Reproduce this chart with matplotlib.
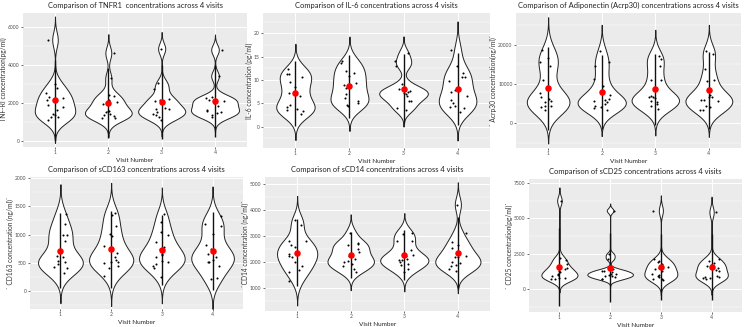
import numpy as np
import matplotlib
matplotlib.use("Agg")
import matplotlib.pyplot as plt
from matplotlib.ticker import MultipleLocator

plt.rcParams['font.family'] = ['Lato', 'DejaVu Sans']

visits = ['1', '2', '3', '4']

# concentrations per visit
tnfr1 = [
    [5330, 3020, 2800, 2520, 2320, 2250, 2150, 1910, 1790, 1610, 1400, 1350, 1280, 1250, 1120],
    [4630, 3300, 2420, 2350, 2140, 2050, 1950, 1600, 1560, 1500, 1440, 1350, 1300, 1230, 1200],
    [4860, 3050, 2750, 2210, 2180, 2100, 1740, 1700, 1660, 1530, 1440, 1350, 1250, 1120],
    [4800, 3420, 2300, 2250, 2150, 2100, 2020, 1820, 1650, 1600, 1530, 1450, 1350, 1260],
]
il6 = [
    [12.3, 11.4, 11.3, 10.6, 8.5, 7.2, 6.5, 4.7, 4.2, 3.8, 3.4, 3.6, 2.6, 9.5],
    [14.0, 13.6, 12.0, 11.6, 10.8, 9.4, 9.0, 7.0, 6.1, 5.4, 5.0, 4.6, 4.4, 8.2],
    [15.8, 14.0, 13.1, 9.1, 8.1, 7.6, 7.4, 7.2, 7.0, 6.5, 5.6, 5.4, 4.0, 3.6],
    [16.5, 13.1, 11.6, 10.6, 10.6, 9.7, 7.9, 7.4, 6.5, 5.8, 5.1, 4.5, 4.2, 3.9, 3.1],
]
acrp30 = [
    [18560, 16600, 15500, 14500, 11100, 7700, 6600, 6270, 5600, 5340, 4500, 4320, 4150, 3300],
    [18300, 15500, 14500, 11300, 9600, 7300, 6200, 6000, 5800, 5300, 4900, 4500, 4150, 3800, 3500],
    [17100, 16300, 14500, 11100, 11000, 7000, 6800, 6700, 6400, 5600, 5400, 4900, 4300, 3600],
    [18300, 17500, 13900, 11000, 10800, 7300, 6800, 6700, 6000, 5800, 5900, 4500, 4100, 3500, 3300],
]
scd163 = [
    [1360, 1180, 1000, 990, 890, 620, 600, 530, 520, 490, 430, 410, 320],
    [1390, 1340, 1150, 1010, 980, 800, 740, 680, 600, 550, 520, 510, 500, 450, 410, 265],
    [1370, 1220, 1050, 1000, 870, 780, 740, 660, 640, 610, 530, 510, 480, 440, 410, 250],
    [1330, 1180, 1160, 1010, 810, 740, 660, 600, 560, 525, 520, 440, 230, 210],
]
scd14 = [
    [3610, 3420, 2830, 2810, 2650, 2580, 2360, 2300, 2240, 2200, 2000, 1850, 1710, 1620, 1270],
    [3140, 2750, 2700, 2650, 2500, 2400, 2220, 2130, 2040, 2000, 1940, 1850, 1720, 1620],
    [3140, 3100, 2810, 2800, 2450, 2290, 2250, 2130, 2090, 2070, 2000, 1940, 1870, 1720, 1620],
    [4220, 3140, 2780, 2650, 2540, 2240, 2200, 2200, 2000, 1980, 1870, 1850, 1720, 1660],
]
scd25 = [
    [6250, 2200, 2020, 1800, 1500, 1450, 1300, 1200, 1100, 960, 900, 780, 730, 700, 800],
    [5550, 2450, 2150, 1400, 1300, 1250, 1200, 1100, 1050, 1000, 850, 730, 680, 900, 950],
    [5550, 2150, 1950, 1900, 1790, 1550, 1480, 1430, 1250, 1100, 1000, 900, 850, 730, 700, 650],
    [5430, 2150, 2000, 1860, 1720, 1600, 1500, 1320, 1250, 900, 850, 850, 750, 700, 800],
]

titles = [
    "Comparison of TNFR1  concentrations across 4 visits",
    "Comparison of IL-6 concentrations across 4 visits",
    "Comparison of Adiponectin (Acrp30) concentrations across 4 visits",
    "Comparison of sCD163 concentrations across 4 visits",
    "Comparison of sCD14 concentrations across 4 visits",
    "Comparison of sCD25 concentrations across 4 visits",
]
ylabels = [
    "` TNF-RI concentration(pg/ml)`",
    "IL-6 concentration (pg/ml)",
    "` Acrp30 concentration(ng/ml)`",
    "` CD163 concentration (ng/ml)`",
    "`CD14 concentration (ng/ml)`",
    "` CD25 concentration(pg/ml)`",
]
datasets = [tnfr1, il6, acrp30, scd163, scd14, scd25]

# layout: plot area in pixels (left, top, right, bottom), y limits, tick step
boxes = [(23, 13, 247, 147), (263, 13, 490, 148), (516, 13, 741, 148),
         (30, 177, 243, 309), (265, 177, 490, 311), (529, 179, 742, 312)]
ylims = [(-320, 6740), (-4.6, 24.4), (-6270, 28050),
         (-313, 2018), (113, 5283), (-1620, 7780)]
ysteps = [2000, 5, 10000, 500, 1000, 2500]

W, H = 746, 327


def kde_stats(vals):
    # gaussian kde like ggplot's geom_violin (bw.nrd0, tails 3 bw past the data)
    v = np.asarray(vals, float)
    n = len(v)
    iqr = np.subtract(*np.percentile(v, [75, 25]))
    bw = 0.9 * min(v.std(ddof=1), iqr / 1.34) * n ** -0.2
    grid = np.linspace(v.min() - 3 * bw, v.max() + 3 * bw, 512)
    dens = np.exp(-0.5 * ((grid[:, None] - v[None, :]) / bw) ** 2).sum(1) / (n * bw * np.sqrt(2 * np.pi))
    return dict(coords=grid, vals=dens, mean=v.mean(), median=np.median(v),
                min=v.min(), max=v.max())


fig = plt.figure(figsize=(W / 100, H / 100), dpi=100)
rng = np.random.default_rng(11)

for data, title, ylab, box, ylim, step in zip(datasets, titles, ylabels, boxes, ylims, ysteps):
    l, t, r, b = box
    ax = fig.add_axes([l / W, 1 - b / H, (r - l) / W, (b - t) / H])
    ax.set_facecolor('#EBEBEB')
    for s in ax.spines.values():
        s.set_visible(False)

    pos = np.arange(1, len(visits) + 1)
    stats = [kde_stats(v) for v in data]
    gmax = max(s['vals'].max() for s in stats)
    # softened area scaling, closer to the widths seen in the original
    widths = [0.9 * (s['vals'].max() / gmax) ** 0.5 for s in stats]
    parts = ax.violin(stats, positions=pos, widths=widths, showextrema=False)
    for body in parts['bodies']:
        body.set_facecolor('white')
        body.set_edgecolor('#222222')
        body.set_alpha(1)
        body.set_linewidth(0.7)
        body.set_zorder(2)

    for p, v in zip(pos, data):
        v = np.asarray(v, float)
        m, sd = v.mean(), v.std(ddof=1)
        ax.vlines(p, m - 2 * sd, m + 2 * sd, color='#111111', lw=1.0, zorder=3)
        jit = rng.uniform(-0.17, 0.17, len(v))
        ax.scatter(p + jit, v, s=2.2, color='black', lw=0, zorder=4)
        ax.scatter([p], [m], s=22, color='red', lw=0, zorder=5)

    ax.set_xlim(0.4, 4.6)
    ax.set_ylim(*ylim)
    ax.set_xticks(pos)
    ax.set_xticklabels(visits)
    ax.yaxis.set_major_locator(MultipleLocator(step))
    ax.yaxis.set_minor_locator(MultipleLocator(step / 2))
    ax.grid(which='major', color='white', lw=0.7)
    ax.grid(which='minor', axis='y', color='white', lw=0.35)
    ax.set_axisbelow(True)
    ax.tick_params(which='major', length=1.5, width=0.5, color='#333333',
                   labelsize=3.6, labelcolor='#4D4D4D', pad=1)
    ax.tick_params(which='minor', length=0)
    ax.set_title(title, fontsize=5.4, color='#222222', pad=3.5)
    ax.set_xlabel("Visit Number", fontsize=4.6, color='#222222', labelpad=1.5)
    ax.set_ylabel(ylab, fontsize=4.8, color='#333333', labelpad=0.6)

fig.savefig("out.png", dpi=100)
